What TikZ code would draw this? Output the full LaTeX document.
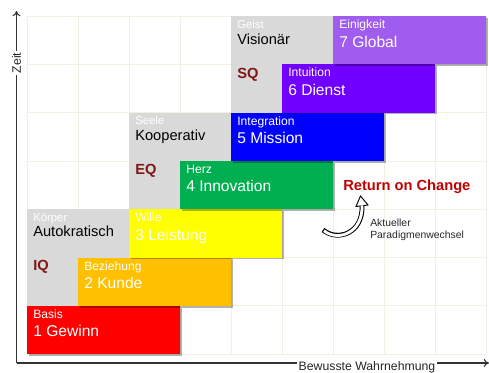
\documentclass[tikz,border=0pt]{standalone}
\usepackage{fontspec}
\setmainfont{Liberation Sans}
\usetikzlibrary{calc,fit,shadows,arrows.meta}
\definecolor{gridc}{RGB}{240,240,228}
\definecolor{grayc}{RGB}{217,217,217}
\definecolor{c1}{RGB}{255,0,0}
\definecolor{c2}{RGB}{255,192,0}
\definecolor{c3}{RGB}{255,255,0}
\definecolor{c4}{RGB}{0,176,80}
\definecolor{c5}{RGB}{0,0,255}
\definecolor{c6}{RGB}{112,0,255}
\definecolor{c7}{RGB}{160,92,238}
\definecolor{qred}{RGB}{128,22,22}
\definecolor{rocred}{RGB}{192,0,0}
\begin{document}
\begin{tikzpicture}[x=0.75pt,y=-0.75pt,
  gridline/.style={draw=gridc,line width=0.6pt},
  lvlbox/.style={inner sep=0pt,outer sep=0pt,draw=none,
    drop shadow={shadow xshift=1.4pt,shadow yshift=-1.4pt,opacity=0.3,fill=black}},
  graybox/.style={inner sep=0pt,outer sep=0pt,draw=none,fill=grayc},
  lsmall/.style={anchor=base west,inner sep=0pt,text=white,font=\fontsize{9.1}{11}\selectfont},
  lbig/.style={anchor=base west,inner sep=0pt,text=white,font=\fontsize{11.7}{14}\selectfont},
  gsmall/.style={anchor=base west,inner sep=0pt,text=white,font=\fontsize{8.5}{10}\selectfont},
  gbig/.style={anchor=base west,inner sep=0pt,text=black,font=\fontsize{11}{13}\selectfont},
  qlbl/.style={anchor=base west,inner sep=0pt,text=qred,font=\bfseries\fontsize{11}{13}\selectfont},
  axis/.style={line width=0.8pt,draw=black!80,-{To[length=4pt,width=6pt]}},
  axlbl/.style={fill=white,inner sep=1.5pt,text=black!85,font=\fontsize{9.2}{11}\selectfont}
]
\useasboundingbox (0,0) rectangle (489,372);
% grid
\foreach \i in {0,...,9} {\draw[gridline] ({27+51*\i},16) -- ({27+51*\i},354.1);}
\foreach \j in {0,...,7} {\draw[gridline] (27,{16+48.3*\j}) -- (486,{16+48.3*\j});}
% axes
\coordinate (org) at (16.5,363);
\coordinate (ytop) at (16.5,11);
\coordinate (xend) at (489,363);
\draw[axis] (org) -- (ytop);
\draw[axis] (org) -- (xend);
\node[axlbl,rotate=90] (zeit) at (16.5,63) {Zeit};
\node[axlbl] (bw) at (367,367.5) {Bewusste Wahrnehmung};
% gray boxes
\node[graybox,fit={(27,209.2) (129,305.8)}] (g1) {};
\node[graybox,fit={(129,112.6) (231,209.2)}] (g2) {};
\node[graybox,fit={(231,16) (333,112.6)}] (g3) {};
\node[gsmall] (g1a) at ($(g1.north west)+(6,12)$) {Körper};
\node[gbig] (g1b) at ($(g1.north west)+(6,27.5)$) {Autokratisch};
\node[qlbl] (g1q) at ($(g1.north west)+(6,61.5)$) {IQ};
\node[gsmall] (g2a) at ($(g2.north west)+(6,12)$) {Seele};
\node[gbig] (g2b) at ($(g2.north west)+(6,27.5)$) {Kooperativ};
\node[qlbl] (g2q) at ($(g2.north west)+(6,61.5)$) {EQ};
\node[gsmall] (g3a) at ($(g3.north west)+(6,12)$) {Geist};
\node[gbig] (g3b) at ($(g3.north west)+(6,28.5)$) {Visionär};
\node[qlbl] (g3q) at ($(g3.north west)+(6,62.5)$) {SQ};
% level boxes
\node[lvlbox,fill=c1,fit={(27,305.8) (180,354.1)}] (b1) {};
\node[lvlbox,fill=c2,fit={(78,257.5) (231,305.8)}] (b2) {};
\node[lvlbox,fill=c3,fit={(129,209.2) (282,257.5)}] (b3) {};
\node[lvlbox,fill=c4,fit={(180,160.9) (333,209.2)}] (b4) {};
\node[lvlbox,fill=c5,fit={(231,112.6) (384,160.9)}] (b5) {};
\node[lvlbox,fill=c6,fit={(282,64.3) (435,112.6)}] (b6) {};
\node[lvlbox,fill=c7,fit={(333,16) (486,64.3)}] (b7) {};
\foreach \n/\s/\b in {1/Basis/1 Gewinn,2/Beziehung/2 Kunde,3/Wille/3 Leistung,4/Herz/4 Innovation,5/Integration/5 Mission,6/Intuition/6 Dienst,7/Einigkeit/7 Global} {
  \node[lsmall] (s\n) at ($(b\n.north west)+(6,12.5)$) {\s};
  \node[lbig] (t\n) at ($(b\n.north west)+(6,31)$) {\b};
}
% return on change
\node[anchor=base west,inner sep=0pt,text=rocred,font=\bfseries\fontsize{11}{13}\selectfont] (roc) at (343,190) {Return on Change};
\node[anchor=north west,inner sep=0pt,align=left,text=black!85,font=\fontsize{7.8}{9}\selectfont] (para) at (370,218.5) {Aktueller\\Paradigmenwechsel};
\coordinate (ctail) at (323,230);
\coordinate (chead) at (362,206);
\draw[line width=3.6pt,black] (ctail) .. controls (338,242) and (363,233) .. (chead);
\filldraw[fill=white,draw=black,line width=0.7pt,line join=miter] (356,206.5) -- (360.5,196) -- (368,205) -- cycle;
\draw[line width=2.1pt,white,shorten <=0.9pt] (ctail) .. controls (338,242) and (363,233) .. ($(chead)+(0,-0.6)$);
\end{tikzpicture}
\end{document}
